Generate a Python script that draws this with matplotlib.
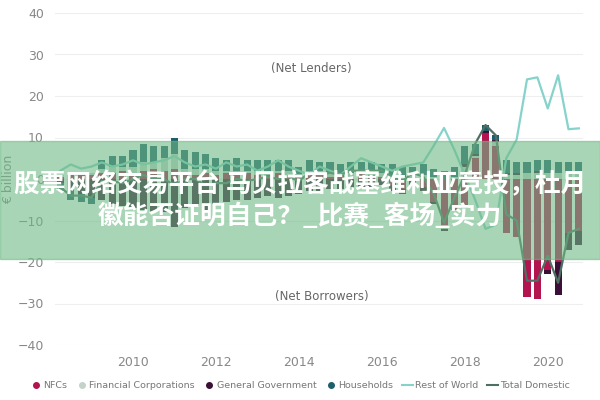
import matplotlib

matplotlib.use("Agg")
import matplotlib.pyplot as plt
import numpy as np
from matplotlib.lines import Line2D
from matplotlib.patches import Rectangle

# quarterly, 2008Q2 .. 2020Q4
quarters = 2008.25 + 0.25 * np.arange(51)

nfcs = [0.5, 1.0, 1.0,
        1.0, 1.5, 1.5, 2.0,
        1.5, 2.0, 2.5, 2.0,
        2.5, 1.5, 1.0, 1.5,
        1.0, 1.5, 1.0, 1.5,
        1.0, 1.0, 1.5, 1.0,
        0.5, 1.0, 1.5, 0.5,
        1.0, 0.5, 1.5, 1.0,
        0.5, -1.5, -2.5, -0.5,
        -2.0, -5.5, -11.0, -7.5,
        -7.0, 5.0, 11.0, 8.0,
        -13.0, -14.0, -28.5, -29.0,
        -22.0, -20.0, -13.0, -12.5]
fin_corps = [0.5, 0.0, 0.5,
             0.5, 1.0, 1.5, 1.0,
             1.5, 2.0, 1.5, 3.0,
             3.5, 1.0, 1.5, 1.0,
             1.0, 0.5, 1.0, 0.5,
             1.0, 0.5, 0.5, 1.0,
             0.5, 1.0, 0.5, 1.0,
             0.5, 1.0, 0.5, 0.5,
             1.0, 0.5, 0.5, 1.0,
             1.0, 0.5, -1.0, 0.5,
             3.0, 0.5, 0.0, 1.0,
             1.0, 1.0, 1.5, 1.5,
             1.5, 1.5, 1.5, 1.5]
gen_gov = [-1.0, -2.5, -3.5,
           -4.5, -5.0, -6.0, -6.5,
           -7.0, -7.5, -8.0, -8.0,
           -11.5, -7.0, -6.5, -7.5,
           -6.0, -5.5, -5.0, -5.0,
           -4.5, -4.0, -4.5, -4.0,
           -3.5, -3.0, -3.0, -2.5,
           -2.5, -2.0, -2.0, -2.0,
           -1.5, -1.5, -1.0, -1.0,
           -1.0, -0.5, -0.5, 0.0,
           0.5, 0.5, 0.5, 0.5,
           0.5, 0.5, 0.0, 0.5,
           -1.0, -8.0, -4.0, -3.5]
households = [-2.0, -2.5, -2.0,
              -1.5, 2.0, 2.5, 2.5,
              4.0, 4.5, 4.0, 3.0,
              4.0, 4.5, 4.0, 3.5,
              3.0, 2.5, 3.0, 2.5,
              2.5, 3.0, 2.5, 2.5,
              2.0, 2.5, 2.0, 2.5,
              2.0, 2.5, 2.0, 2.5,
              2.0, 3.0, 2.5, 2.0,
              2.5, 2.0, 2.0, 2.5,
              4.5, 2.5, 1.5, 1.0,
              3.0, 2.5, 2.5, 2.5,
              3.0, 2.5, 2.5, 2.5]
rest_of_world = [2.0, 3.5, 2.5,
                 3.0, 4.0, 3.0, 3.5,
                 4.5, 3.5, 4.0, 4.5,
                 5.5, 4.0, 3.0, 3.5,
                 2.5, 4.0, 3.0, 3.5,
                 2.0, 3.0, 4.5, 3.0,
                 2.0, 1.0, 3.0, 2.0,
                 1.0, 3.0, 5.0, 4.0,
                 3.0, 2.0, 3.0, 3.5,
                 4.0, 8.0, 12.3, 7.0,
                 1.0, -5.0, -12.0, -11.0,
                 5.0, 9.5, 24.0, 24.5,
                 17.0, 25.0, 12.0, 12.2]
total_domestic = [-2.0, -4.0, -4.0,
                  -4.5, -0.5, -0.5, -1.0,
                  0.0, 1.0, 0.0, 0.0,
                  -1.5, 0.0, 0.0, -1.5,
                  -1.0, -1.0, 0.0, -0.5,
                  0.0, 0.5, 0.0, 0.5,
                  -0.5, 1.5, 1.0, 1.5,
                  1.0, 2.0, 2.0, 2.0,
                  2.0, 0.5, -0.5, 1.5,
                  0.5, -3.5, -10.5, -4.5,
                  1.0, 8.5, 13.0, 10.5,
                  -8.5, -10.0, -24.5, -24.5,
                  -18.5, -25.0, -13.0, -12.0]

sectors = [
    ("NFCs", nfcs, "#b3134f"),
    ("Financial Corporations", fin_corps, "#c3d3ca"),
    ("General Government", gen_gov, "#3b1036"),
    ("Households", households, "#1d5f6c"),
]

fig = plt.figure(figsize=(6, 4), dpi=100)
ax = fig.add_axes([55 / 600, 55 / 400, 528 / 600, 332 / 400])

pos_base = np.zeros(len(quarters))
neg_base = np.zeros(len(quarters))
for name, vals, col in sectors:
    v = np.array(vals)
    base = np.where(v >= 0, pos_base, neg_base)
    ax.bar(quarters, v, bottom=base, width=0.17, color=col, zorder=2)
    pos_base += np.where(v >= 0, v, 0)
    neg_base += np.where(v < 0, v, 0)

ax.plot(quarters, rest_of_world, color="#86d3cb", lw=1.6, zorder=3)
ax.plot(quarters, total_domestic, color="#4f6f63", lw=1.6, zorder=3)

ax.set_xlim(2008.12, 2020.85)
ax.set_ylim(-40, 40)
ax.set_yticks(range(-40, 41, 10))
ax.set_xticks(range(2010, 2021, 2))
ax.tick_params(length=0, colors="#888888", labelsize=9, pad=8)
ax.grid(axis="y", color="#eeeeee", lw=0.8, zorder=0)
for s in ax.spines.values():
    s.set_visible(False)
ax.set_ylabel("€ billion", color="#888888", fontsize=9)
ax.yaxis.set_label_coords(-0.075, 0.5)

ax.text(2014.31, 26.7, "(Net Lenders)", ha="center", va="center",
        fontsize=8.5, color="#666666")
ax.text(2014.55, -28.2, "(Net Borrowers)", ha="center", va="center",
        fontsize=8.5, color="#666666")

handles = [Line2D([], [], marker="o", ls="", color=c, markersize=4)
           for _, _, c in sectors]
handles += [Line2D([], [], color="#86d3cb", lw=1.5),
            Line2D([], [], color="#4f6f63", lw=1.5)]
labels = [n for n, _, _ in sectors] + ["Rest of World", "Total Domestic"]
fig.legend(handles, labels, loc="center", bbox_to_anchor=(0.5, 0.035),
           ncol=6, frameon=False, fontsize=6.8, handlelength=1.2,
           handletextpad=0.2, columnspacing=0.9, labelcolor="#777777")

# overlay banner with headline
fig.patches.append(Rectangle((0, 141 / 400), 1, 118 / 400,
                             transform=fig.transFigure, color="#6eb984",
                             alpha=0.6, zorder=10))
cjk = ["Noto Sans CJK SC", "DejaVu Sans"]
fig.text(0.5, 0.5375, "股票网络交易平台 马贝拉客战塞维利亚竞技，杜月",
         ha="center", va="center", color="white", fontsize=18.5,
         fontweight="bold", family=cjk, zorder=11)
fig.text(0.5, 0.46, "徽能否证明自己？_比赛_客场_实力",
         ha="center", va="center", color="white", fontsize=18.5,
         fontweight="bold", family=cjk, zorder=11)

fig.savefig("out.png", dpi=100)
